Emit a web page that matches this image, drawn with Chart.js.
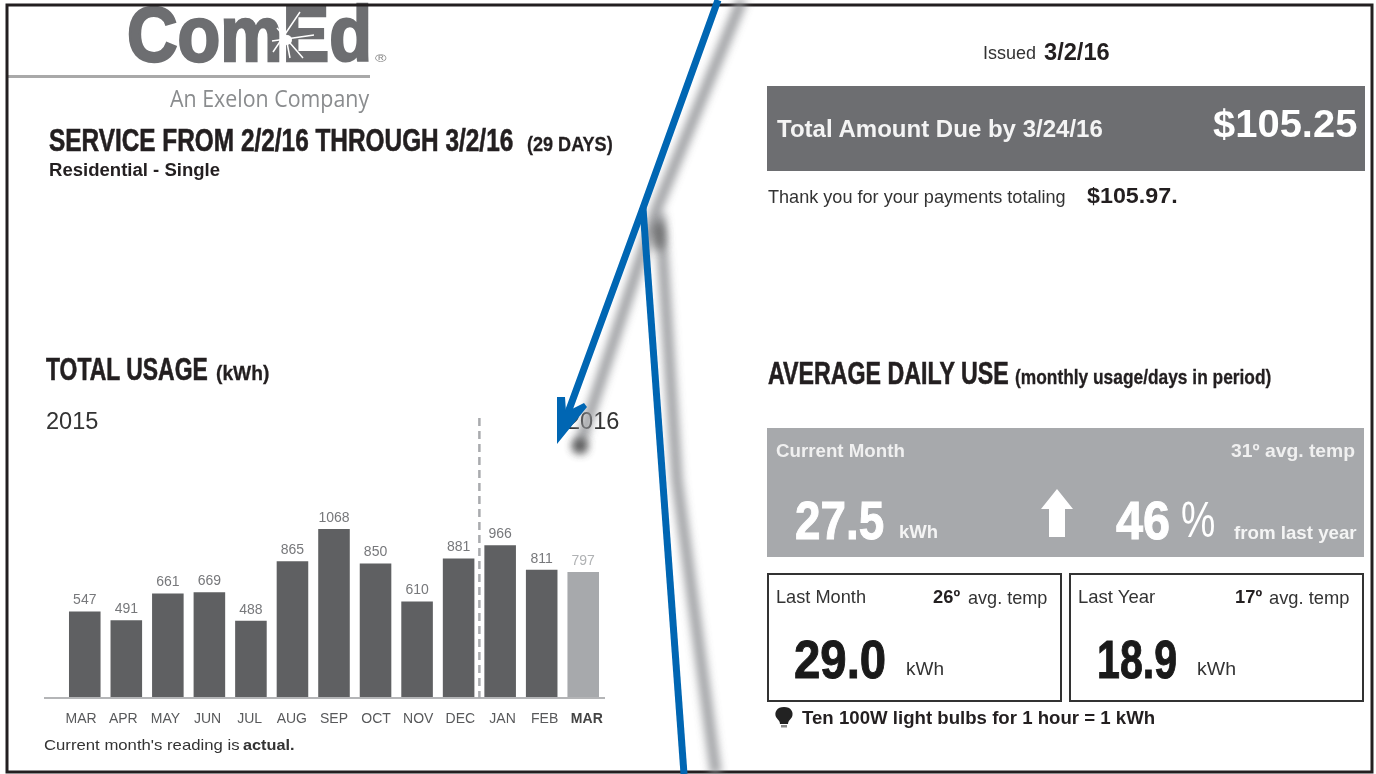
<!DOCTYPE html>
<html>
<head>
<meta charset="utf-8">
<title>ComEd usage</title>
<script src="https://cdn.jsdelivr.net/npm/chart.js@4"></script>
<style>
  html, body { margin: 0; padding: 0; background: #fff; }
  #page { position: relative; width: 1376px; height: 774px; overflow: hidden; background: #fff; }
  #usageChart { position: absolute; left: 0; top: 0; }
  .t { position: absolute; white-space: nowrap; transform-origin: left center; line-height: 1; }
  .block { position: absolute; box-sizing: border-box; }
  #marks { position: absolute; left: 0; top: 0; }
</style>
</head>
<body>
<div id="page">
  <div class="block" style="left:767px;top:86px;width:598px;height:85px;background:#6d6e71"></div>
  <div class="block" style="left:767px;top:428px;width:597px;height:129px;background:#a7a9ac"></div>
  <div class="block" style="left:767px;top:573px;width:295px;height:129px;border:2px solid #333"></div>
  <div class="block" style="left:1069px;top:573px;width:295px;height:129px;border:2px solid #333"></div>
  <div class="block" style="left:8px;top:75px;width:362px;height:3px;background:#a9a9a9"></div>
  <canvas id="usageChart" width="1376" height="774"></canvas>
  <svg id="marks" width="1376" height="774" viewBox="0 0 1376 774">
    <defs>
      <filter id="soft" filterUnits="userSpaceOnUse" x="0" y="0" width="1376" height="774"><feGaussianBlur stdDeviation="4.5"/></filter>
    </defs>
    <!-- logo sparkle -->
    <g stroke="#fff" stroke-width="1.5">
      <path d="M273 52 L300 12 M283 22 L290 58 M272 41 L314 35 M277 28 L303 58"/>
    </g>
    <circle cx="287" cy="40" r="5" fill="#fff"/>
    <!-- up arrow in current month panel -->
    <path d="M1057 489 L1073 509 L1065 509 L1065 537 L1049 537 L1049 509 L1041 509 Z" fill="#fff"/>
    <!-- bulb -->
    <path d="M784 707 C777 707 774 712 776 717 C778 720 780 721 780 724 L788 724 C788 721 790 720 792 717 C794 712 791 707 784 707 Z" fill="#222"/>
    <rect x="781" y="725" width="6" height="2.5" fill="#888"/>
    <!-- frame -->
    <path d="M7 772 L7 5 L1372 5 L1372 772 Z" fill="none" stroke="#231f20" stroke-width="3"/>
    <!-- pointer shadows -->
    <g fill="none" stroke="#8f9194" stroke-width="11" filter="url(#soft)" opacity="0.85">
      <path d="M742 0 L657 208 L578 450"/>
      <path d="M660 214 L677 480 L716 774"/>
    </g>
    <circle cx="580" cy="446" r="8" fill="#444" filter="url(#soft)" opacity="0.8"/>
    <ellipse cx="659" cy="236" rx="6" ry="15" fill="#555" filter="url(#soft)" opacity="0.7"/>
    <!-- blue pointers -->
    <g fill="none" stroke="#0066b3" stroke-width="7">
      <path d="M718 0 L643 208 L566 418"/>
      <path d="M643 208 L684 774"/>
    </g>
    <path d="M557 444 L557 397 L565 397 L566 412 L584 403 L587 407 Z" fill="#0066b3"/>
  </svg>
</div>
<script>
const months = ["MAR", "APR", "MAY", "JUN", "JUL", "AUG", "SEP", "OCT", "NOV", "DEC", "JAN", "FEB", "MAR"];
const usage = [547, 491, 661, 669, 488, 865, 1068, 850, 610, 881, 966, 811, 797];

const lastIndex = months.length - 1;
const sans = '"Liberation Sans", Arial, sans-serif';
const narrow = '"Liberation Sans Narrow", "Liberation Sans", sans-serif';
const page = document.getElementById("page");

// Place a text so its vertical middle sits on cy and it is squeezed to the wanted width
function put(text, x, cy, width, font, color, stroke) {
  const el = document.createElement("span");
  el.className = "t";
  el.textContent = text;
  el.style.left = x + "px";
  el.style.top = cy + "px";
  el.style.font = font;
  el.style.lineHeight = "1";
  el.style.color = color;
  if (stroke) el.style.webkitTextStroke = stroke + "px " + color;
  page.insertBefore(el, document.getElementById("marks"));
  const sx = width / el.offsetWidth;
  el.style.transform = `translateY(-50%) scaleX(${sx})`;
}

// --- LEFT PANEL ---
put("ComEd", 127, 34, 245, `bold 78px ${sans}`, "#6d6e71", 2.5);
put("®", 375, 59, 11, `10px ${sans}`, "#8a8a8a");
put("An Exelon Company", 170, 98, 199, `23px "Open Sans", sans-serif`, "#8a8c8e");
put("SERVICE FROM 2/2/16 THROUGH 3/2/16", 49, 140, 464, `bold 31px ${narrow}`, "#231f20", 0.6);
put("(29 DAYS)", 527, 143, 86, `bold 21px ${narrow}`, "#231f20", 0.3);
put("Residential - Single", 49, 170, 171, `bold 18px ${sans}`, "#231f20");
put("TOTAL USAGE", 46, 369, 162, `bold 31px ${narrow}`, "#231f20", 0.6);
put("(kWh)", 216, 372, 53, `bold 21px ${narrow}`, "#231f20", 0.3);
put("2015", 46, 421, 52, `24px ${sans}`, "#333");
put("2016", 567, 421, 52, `24px ${sans}`, "#333");
put("Current month's reading is", 44, 744, 195, `15px ${sans}`, "#333");
put("actual.", 243, 744, 52, `bold 15px ${sans}`, "#333");

// --- RIGHT PANEL ---
put("Issued", 983, 53, 53, `18px ${sans}`, "#333");
put("3/2/16", 1044, 52, 66, `bold 24px ${sans}`, "#231f20");
put("Total Amount Due by 3/24/16", 777, 129, 326, `bold 23px ${sans}`, "#f4f4f4");
put("$105.25", 1213, 124, 144, `bold 38px ${sans}`, "#fff");
put("Thank you for your payments totaling", 768, 196, 298, `19px ${sans}`, "#333");
put("$105.97.", 1087, 196, 91, `bold 22px ${sans}`, "#231f20");
put("AVERAGE DAILY USE", 768, 373, 241, `bold 31px ${narrow}`, "#231f20", 0.6);
put("(monthly usage/days in period)", 1015, 376, 256, `bold 21px ${narrow}`, "#231f20", 0.3);

put("Current Month", 776, 450, 129, `bold 19px ${sans}`, "#f0f0f0");
put("31º  avg. temp", 1231, 450, 124, `bold 19px ${sans}`, "#f0f0f0");
put("27.5", 795, 520, 89, `bold 54px ${narrow}`, "#fff", 1);
put("kWh", 899, 531, 39, `bold 19px ${sans}`, "#f4f4f4");
put("46", 1116, 520, 54, `bold 54px ${narrow}`, "#fff", 1);
put("%", 1181, 520, 34, `50px ${narrow}`, "#fff");
put("from last year", 1234, 532, 123, `bold 19px ${sans}`, "#f4f4f4");

put("Last Month", 776, 596, 90, `19px ${sans}`, "#333");
put("26º", 933, 596, 27, `bold 19px ${sans}`, "#231f20");
put("avg. temp", 968, 597, 79, `19px ${sans}`, "#333");
put("29.0", 794, 659, 92, `bold 54px ${narrow}`, "#1a1a1a", 1);
put("kWh", 906, 669, 38, `18px ${sans}`, "#333");
put("Last Year", 1078, 596, 77, `19px ${sans}`, "#333");
put("17º", 1235, 596, 27, `bold 19px ${sans}`, "#231f20");
put("avg. temp", 1269, 597, 80, `19px ${sans}`, "#333");
put("18.9", 1097, 659, 80, `bold 54px ${narrow}`, "#1a1a1a", 1);
put("kWh", 1197, 669, 39, `18px ${sans}`, "#333");
put("Ten 100W light bulbs for 1 hour = 1 kWh", 802, 718, 353, `bold 18px ${sans}`, "#231f20");

// --- CHART EXTRAS ---
const usageExtras = {
  id: "usageExtras",
  afterDatasetsDraw(chart) {
    const { ctx, scales } = chart;
    const base = scales.y.getPixelForValue(0);
    const split = (scales.x.getPixelForValue(9) + scales.x.getPixelForValue(10)) / 2;
    ctx.save();

    // baseline runs past the first bar
    ctx.strokeStyle = "#b4b5b7";
    ctx.lineWidth = 2;
    ctx.beginPath();
    ctx.moveTo(44, base);
    ctx.lineTo(605, base);
    ctx.stroke();

    // dashed divider between 2015 and 2016
    ctx.strokeStyle = "#a9abae";
    ctx.lineWidth = 2.5;
    ctx.setLineDash([8, 5]);
    ctx.beginPath();
    ctx.moveTo(split, 418);
    ctx.lineTo(split, base);
    ctx.stroke();
    ctx.setLineDash([]);

    // value labels
    ctx.font = `14px ${sans}`;
    ctx.textAlign = "center";
    ctx.textBaseline = "middle";
    usage.forEach((value, i) => {
      ctx.fillStyle = i === lastIndex ? "#b0b2b4" : "#77787b";
      ctx.fillText(value, scales.x.getPixelForValue(i), scales.y.getPixelForValue(value) - 11);
    });
    ctx.restore();
  }
};

new Chart(document.getElementById("usageChart"), {
  type: "bar",
  data: {
    labels: months,
    datasets: [{
      data: usage,
      xAxisID: "x",
      yAxisID: "y",
      backgroundColor: c => c.dataIndex === lastIndex ? "#a7a9ac" : "#5f6062",
      categoryPercentage: 1,
      barPercentage: 0.76,
      borderWidth: 0
    }]
  },
  options: {
    responsive: false,
    animation: false,
    layout: { padding: { left: 64, right: 772, top: 429, bottom: 46 } },
    plugins: { legend: { display: false }, tooltip: { enabled: false } },
    scales: {
      x: { display: false },
      y: { display: false, min: 0, max: 1700 },
      // month labels sit on a slightly wider pitch than the bars
      months: {
        type: "linear",
        axis: "x",
        position: "bottom",
        offset: false,
        min: -0.407,
        max: 12.408,
        afterBuildTicks: axis => { axis.ticks = months.map((m, i) => ({ value: i })); },
        afterFit: axis => { axis.height = 30; },
        grid: { drawOnChartArea: false, drawTicks: true, tickLength: 13, tickColor: "rgba(0,0,0,0)" },
        border: { display: false },
        ticks: {
          autoSkip: false,
          maxRotation: 0,
          padding: 0,
          color: c => c.index === lastIndex ? "#444" : "#58595b",
          font: c => ({ family: sans, size: 14, weight: c.index === lastIndex ? "bold" : "normal" }),
          callback: (value, i) => months[i]
        }
      }
    }
  },
  plugins: [usageExtras]
});
</script>
</body>
</html>
